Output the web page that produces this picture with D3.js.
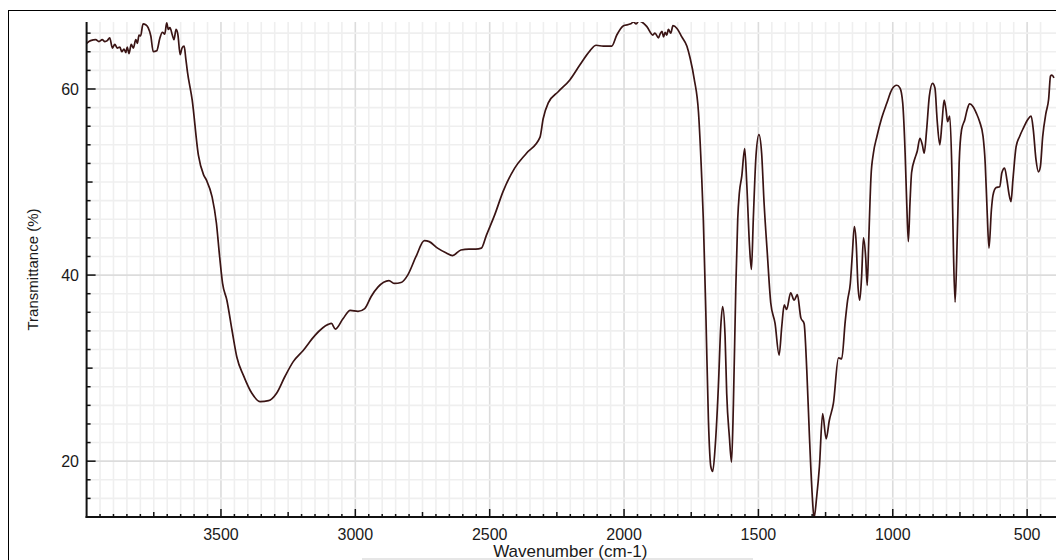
<!DOCTYPE html>
<html>
<head>
<meta charset="utf-8">
<script src="https://cdn.jsdelivr.net/npm/d3@7"></script>
<style>
  html, body { margin: 0; padding: 0; background: #fff; }
  svg { display: block; font-family: "Liberation Sans", Arial, sans-serif; }
</style>
</head>
<body>
<svg id="chart" width="1056" height="560"></svg>
<script>
// Spectrum, high wavenumber first
const wavenumbers = [
  4000, 3985, 3966, 3954, 3942, 3932, 3923, 3914, 3904, 3895, 3886, 3876, 3869, 3861, 3854, 3849,
  3842, 3834, 3826, 3817, 3811, 3805, 3799, 3790, 3780, 3771, 3761, 3752, 3739, 3727, 3718, 3709,
  3702, 3696, 3690, 3681, 3675, 3667, 3660, 3652, 3645, 3637, 3631, 3625, 3607, 3584, 3565, 3554,
  3533, 3517, 3505, 3494, 3478, 3459, 3441, 3416, 3385, 3354, 3323, 3293, 3262, 3231, 3194, 3151,
  3101, 3089, 3074, 3046, 3019, 2990, 2965, 2941, 2916, 2875, 2854, 2830, 2805, 2774, 2743, 2725,
  2694, 2663, 2638, 2607, 2577, 2552, 2531, 2512, 2481, 2450, 2407, 2363, 2313, 2301, 2282, 2245,
  2201, 2164, 2127, 2104, 2077, 2046, 2027, 2002, 1975, 1965, 1955, 1945, 1934, 1925, 1915, 1893,
  1885, 1872, 1866, 1859, 1853, 1847, 1841, 1835, 1826, 1818,
  1803, 1785, 1766, 1754, 1739, 1723, 1711, 1705, 1695, 1686, 1677, 1670, 1661, 1649, 1640, 1633,
  1624, 1618, 1608, 1600, 1593, 1584, 1577, 1571, 1562, 1551, 1543, 1533, 1526, 1519, 1509, 1498,
  1488, 1479, 1467, 1454, 1438, 1423, 1413, 1404, 1395, 1380, 1367, 1355, 1342, 1330, 1320, 1310,
  1300, 1293, 1283, 1273, 1261, 1248, 1236, 1221, 1202, 1190, 1177, 1168, 1158, 1151, 1143, 1136,
  1130, 1123, 1116, 1109, 1101, 1095, 1089, 1081, 1072, 1059, 1041, 1022, 1004, 985, 973, 963,
  954, 948, 942, 936, 930, 917, 909, 899, 890, 883, 874, 864, 852, 843, 835, 825,
  817, 809, 802, 796, 788, 780, 774, 768, 760, 753, 744, 732, 723, 714, 701, 689,
  677, 664, 656, 649, 642, 633, 627, 615, 602, 594, 584, 575, 568, 560, 553, 541,
  528, 514, 498, 485, 477, 467, 458, 451, 442, 430, 420, 413, 408, 400
]

const transmittance = [
  64.9, 65.2, 65.3, 65.1, 65.3, 65.1, 65.2, 65.5, 64.4, 64.8, 64.4, 64.5, 64.0, 64.3, 63.9, 64.5,
  63.8, 64.8, 64.4, 65.3, 64.9, 65.8, 65.7, 67.0, 66.9, 66.6, 65.7, 64.0, 64.1, 65.5, 66.1, 65.9,
  67.1, 66.4, 66.6, 65.8, 65.3, 66.4, 65.8, 63.7, 64.4, 64.6, 63.3, 61.9, 58.8, 52.9, 50.8, 50.2,
  48.4, 45.6, 42.0, 39.1, 37.3, 34.1, 31.2, 29.2, 27.3, 26.4, 26.5, 27.3, 29.1, 30.7, 31.9, 33.5,
  34.7, 34.8, 34.2, 35.3, 36.2, 36.1, 36.4, 37.7, 38.7, 39.4, 39.1, 39.2, 40.0, 42.0, 43.7, 43.6,
  42.9, 42.4, 42.1, 42.7, 42.8, 42.8, 42.9, 44.3, 46.5, 49.0, 51.5, 53.1, 54.8, 56.8, 58.5, 59.7,
  61.0, 62.6, 64.1, 64.7, 64.6, 64.6, 65.8, 66.8, 67.0, 67.2, 67.0, 67.3, 67.2, 67.0, 66.7, 65.8,
  66.0, 65.5, 65.9, 66.2, 65.6, 66.1, 65.8, 66.4, 66.0, 66.8,
  66.5, 65.6, 64.6, 63.3, 61.1, 57.5, 50.5, 46.0, 35.2, 24.4, 19.4, 18.9, 21.5, 28.0, 34.5, 36.6,
  33.4, 27.3, 22.6, 19.9, 26.2, 38.8, 46.0, 48.8, 50.6, 53.6, 49.6, 43.1, 40.6, 46.0, 52.8, 55.1,
  53.1, 47.8, 42.4, 37.0, 34.8, 31.4, 34.5, 36.8, 36.3, 38.1, 37.3, 37.9, 35.4, 34.8, 29.8, 22.6,
  16.5, 13.9, 16.2, 19.4, 25.1, 22.4, 24.4, 26.2, 31.1, 31.0, 35.0, 37.3, 39.1, 42.0, 45.2, 43.4,
  39.1, 37.3, 39.8, 44.0, 42.0, 38.9, 44.1, 50.6, 53.1, 54.9, 56.9, 58.5, 59.9, 60.4, 60.1, 58.5,
  53.1, 47.7, 43.6, 47.7, 51.0, 52.6, 53.3, 54.7, 54.0, 53.1, 55.6, 59.2, 60.6, 60.1, 56.7, 54.0,
  56.3, 58.8, 57.8, 56.5, 57.1, 51.3, 42.3, 37.1, 44.1, 52.0, 55.6, 56.7, 57.8, 58.4, 58.1, 57.4,
  56.5, 54.9, 52.0, 47.0, 42.9, 47.0, 48.6, 49.4, 49.5, 51.0, 51.5, 50.2, 48.8, 47.9, 50.2, 53.8,
  54.9, 55.8, 56.7, 57.1, 55.6, 52.4, 51.1, 51.6, 54.9, 57.4, 58.9, 61.4, 61.5, 61.2
]

// Axis extents and labelled ticks
const xDomain = [4000, 400]
const yDomain = [14, 67.2]
const xTickLabels = [3500, 3000, 2500, 2000, 1500, 1000, 500]
const yTickLabels = [20, 40, 60]

const svg = d3.select('#chart')

const plot = { left: 86.6, right: 1054, top: 22, bottom: 517 }

const x = d3.scaleLinear().domain(xDomain).range([plot.left, plot.right])
const y = d3.scaleLinear().domain(yDomain).range([plot.bottom, plot.top])

// Outer frame, cut off by the window on the right and bottom
svg.append('rect')
  .attr('x', 8.5).attr('y', 10.5)
  .attr('width', 1200).attr('height', 700)
  .attr('fill', 'none')
  .attr('stroke', '#000')

svg.append('line')
  .attr('x1', 362).attr('x2', 753)
  .attr('y1', 559).attr('y2', 559)
  .attr('stroke', '#e6e6e6')
  .attr('stroke-width', 2)

// Grid: fine every 50 cm-1 / 2 %, stronger every 500 cm-1 / 20 %
const xGrid = d3.range(3950, 400, -50)
const yGrid = d3.range(16, 67, 2)

const grid = svg.append('g')

grid.selectAll('line.vx')
  .data(xGrid)
  .join('line')
  .attr('x1', d => x(d)).attr('x2', d => x(d))
  .attr('y1', plot.top).attr('y2', plot.bottom)
  .attr('stroke', d => d % 500 === 0 ? '#dcdcdc' : '#efefef')
  .attr('stroke-width', 1.6)

grid.selectAll('line.hy')
  .data(yGrid)
  .join('line')
  .attr('x1', plot.left).attr('x2', plot.right + 4)
  .attr('y1', d => y(d)).attr('y2', d => y(d))
  .attr('stroke', d => d % 20 === 0 ? '#dcdcdc' : '#efefef')
  .attr('stroke-width', 1.6)

// Spectrum line
svg.append('clipPath')
  .attr('id', 'clip')
  .append('rect')
  .attr('x', plot.left).attr('y', plot.top)
  .attr('width', plot.right - plot.left + 4)
  .attr('height', plot.bottom - plot.top)

const points = wavenumbers.map((w, i) => [w, transmittance[i]])

const line = d3.line()
  .x(d => x(d[0]))
  .y(d => y(d[1]))
  .curve(d3.curveMonotoneX)

svg.append('path')
  .datum(points)
  .attr('clip-path', 'url(#clip)')
  .attr('d', line)
  .attr('fill', 'none')
  .attr('stroke', '#3a1414')
  .attr('stroke-width', 1.7)
  .attr('stroke-linejoin', 'round')

// Bottom axis: ticks point up into the plot
const xAxis = svg.append('g')

xAxis.selectAll('line.tick')
  .data(d3.range(3950, 400, -50))
  .join('line')
  .attr('x1', d => x(d)).attr('x2', d => x(d))
  .attr('y1', plot.bottom)
  .attr('y2', d => plot.bottom - (d % 500 === 0 ? 8 : d % 250 === 0 ? 5 : 3))
  .attr('stroke', '#111')
  .attr('stroke-width', 1.5)

xAxis.append('line')
  .attr('x1', plot.left - 1).attr('x2', 1056)
  .attr('y1', plot.bottom).attr('y2', plot.bottom)
  .attr('stroke', '#111')
  .attr('stroke-width', 2)

xAxis.selectAll('text')
  .data(xTickLabels)
  .join('text')
  .attr('x', d => x(d))
  .attr('y', 539.5)
  .attr('text-anchor', 'middle')
  .attr('font-size', 16)
  .attr('fill', '#1a1a1a')
  .text(d => d)

// Left axis: ticks point right into the plot
const yAxis = svg.append('g')

yAxis.selectAll('line.tick')
  .data(d3.range(16, 67, 2))
  .join('line')
  .attr('x1', plot.left)
  .attr('x2', d => plot.left + (d % 20 === 0 ? 9 : d % 10 === 0 ? 6 : 4))
  .attr('y1', d => y(d)).attr('y2', d => y(d))
  .attr('stroke', '#111')
  .attr('stroke-width', 1.5)

yAxis.append('line')
  .attr('x1', plot.left).attr('x2', plot.left)
  .attr('y1', plot.top).attr('y2', plot.bottom + 1)
  .attr('stroke', '#111')
  .attr('stroke-width', 2)

yAxis.selectAll('text')
  .data(yTickLabels)
  .join('text')
  .attr('x', 79)
  .attr('y', d => y(d))
  .attr('dy', '0.36em')
  .attr('text-anchor', 'end')
  .attr('font-size', 16)
  .attr('fill', '#1a1a1a')
  .text(d => d)

// Axis titles
svg.append('text')
  .attr('x', (plot.left + plot.right) / 2)
  .attr('y', 557)
  .attr('text-anchor', 'middle')
  .attr('font-size', 17)
  .attr('fill', '#1a1a1a')
  .text('Wavenumber (cm-1)')

svg.append('text')
  .attr('transform', `translate(37.5,${(plot.top + plot.bottom) / 2}) rotate(-90)`)
  .attr('text-anchor', 'middle')
  .attr('font-size', 15)
  .attr('fill', '#1a1a1a')
  .text('Transmittance (%)')
</script>
</body>
</html>
